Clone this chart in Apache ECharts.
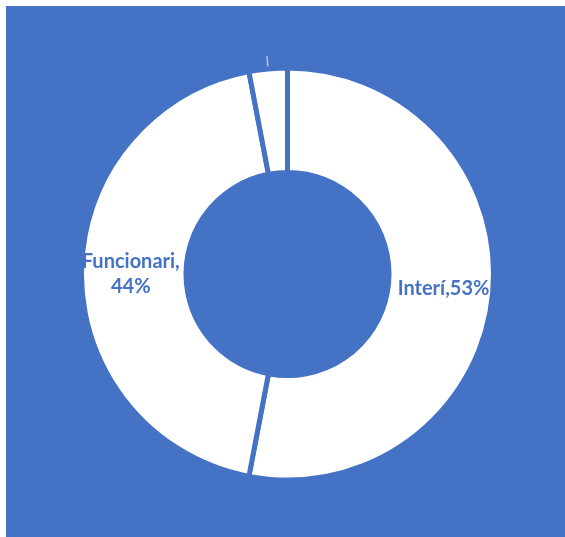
<!DOCTYPE html>
<html>
<head>
<meta charset="utf-8">
<script src="https://cdn.jsdelivr.net/npm/echarts@6/dist/echarts.min.js"></script>
<style>
html,body{margin:0;padding:0;background:#ffffff;}
#chart{position:absolute;left:6px;top:6px;width:559px;height:531px;}
</style>
</head>
<body>
<div id="chart"></div>
<script>
const categories = ['Interí', 'Funcionari', 'Altres'];
const values = [53, 44, 3];
const labelTexts = ['Interí,53%', 'Funcionari,\n44%', ''];

const chart = echarts.init(document.getElementById('chart'));
const blue = '#4472C4';
chart.setOption({
  backgroundColor: blue,
  animation: false,
  series: [{
    type: 'pie',
    center: [281.5, 268],
    radius: [101.5, 206],
    startAngle: 90,
    clockwise: true,
    itemStyle: { color: '#ffffff', borderColor: blue, borderWidth: 5 },
    label: {
      show: true,
      position: 'inside',
      color: blue,
      fontFamily: 'Lato',
      fontWeight: 'bold',
      fontSize: 20,
      lineHeight: 25,
      formatter: p => labelTexts[p.dataIndex]
    },
    emphasis: { disabled: true },
    data: categories.map((c, i) => {
      const d = { name: c, value: values[i] };
      if (i === 2) {
        d.label = { show: true, position: 'outside', formatter: ' ', fontSize: 1 };
        d.labelLine = { show: true, length: 13, length2: 0, smooth: false, lineStyle: { color: '#b4c4e4', width: 1.5 } };
      }
      return d;
    })
  }]
});
</script>
</body>
</html>
